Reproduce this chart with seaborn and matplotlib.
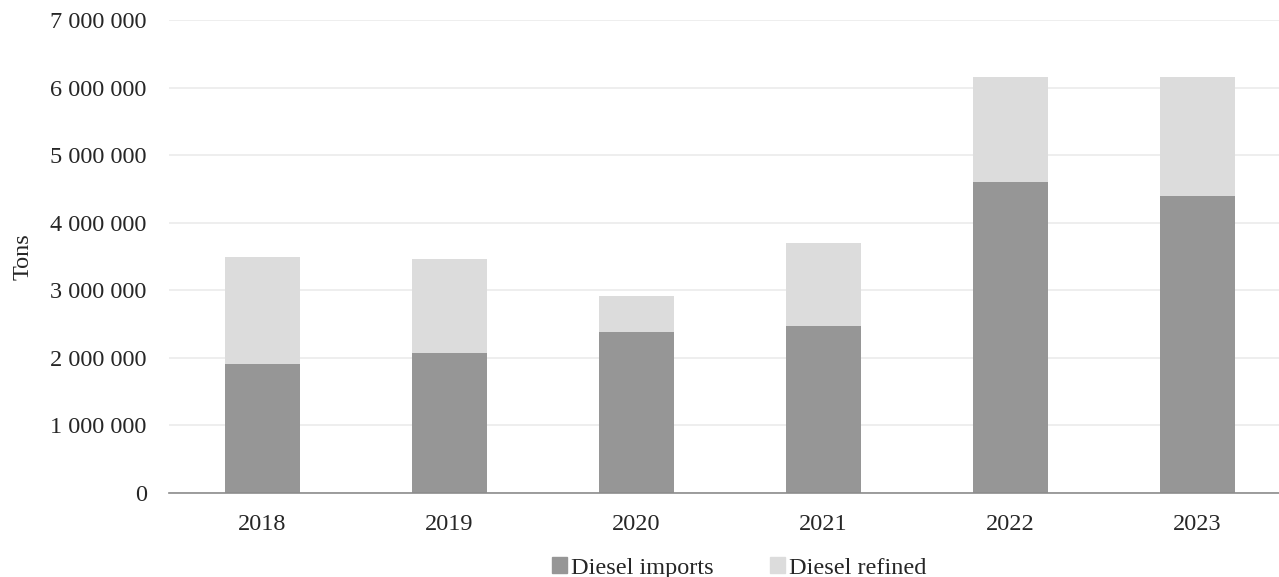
import matplotlib
matplotlib.use("Agg")
import matplotlib.pyplot as plt
import matplotlib.ticker as mticker
from matplotlib.patches import Patch
import seaborn as sns
import pandas as pd

years = ["2018", "2019", "2020", "2021", "2022", "2023"]
imports = [1910000, 2070000, 2380000, 2470000, 4600000, 4400000]
refined = [1580000, 1400000, 540000, 1230000, 1550000, 1750000]

c_imp = "#969696"
c_ref = "#dcdcdc"

sns.set_style("white")
plt.rcParams["font.family"] = ["Liberation Serif", "DejaVu Serif"]

df = pd.DataFrame({"year": years, "imports": imports, "refined": refined})

fig = plt.figure(figsize=(12.79, 5.77), dpi=100)
ax = fig.add_axes([169 / 1279, 84 / 577, 1 - 169 / 1279, 473 / 577])

sns.barplot(data=df, x="year", y="imports", color=c_imp, width=0.4,
            saturation=1, ax=ax, linewidth=0)
sns.barplot(data=df, x="year", y="refined", bottom=df["imports"], color=c_ref,
            width=0.4, saturation=1, ax=ax, linewidth=0)

ax.set_xlim(-0.5, 5.436)
ax.set_ylim(0, 7000000)
ax.yaxis.set_major_locator(mticker.MultipleLocator(1000000))
ax.yaxis.set_major_formatter(
    mticker.FuncFormatter(lambda v, p: f"{v:,.0f}".replace(",", " ")))
ax.grid(axis="y", color="#ebebeb", linewidth=1.2)
ax.set_axisbelow(True)
for s in ["top", "right", "left"]:
    ax.spines[s].set_visible(False)
ax.spines["bottom"].set_color("#8c8c8c")
ax.spines["bottom"].set_linewidth(1.2)
ax.tick_params(axis="y", length=0, pad=16, labelsize=17.5)
ax.tick_params(axis="x", length=0, pad=15, labelsize=17.5)
ax.set_xlabel("")
ax.set_ylabel("Tons", fontsize=17.5, labelpad=12)

handles = [Patch(color=c_imp, label="Diesel imports"),
           Patch(color=c_ref, label="Diesel refined")]
fig.legend(handles=handles, loc="center", bbox_to_anchor=(739 / 1279, 1 - 568 / 577),
           ncol=2, frameon=False, fontsize=17.5, handlelength=0.65, handleheight=0.65,
           handletextpad=0.15, columnspacing=2.3)

fig.savefig("out.png", dpi=100)
plt.close(fig)
